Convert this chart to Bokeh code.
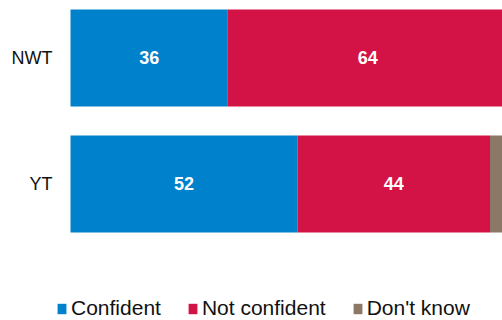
from bokeh.plotting import figure
from bokeh.models import ColumnDataSource, Legend, LegendItem
from bokeh.core.properties import value
from bokeh.embed import file_html
from bokeh.resources import INLINE

categories = ["NWT", "YT"]
confident = [36, 52]
not_confident = [64, 44]
dont_know = [0, 4]
series_names = ["Confident", "Not confident", "Don't know"]
colors = ["#0081CC", "#D31245", "#8B7866"]

ypos = [1, 0]  # NWT on top

src = ColumnDataSource(dict(
    y=ypos,
    c=confident,
    n=not_confident,
    d=dont_know,
))

FONT = "Liberation Sans"

p = figure(width=502, height=320, output_backend="svg", toolbar_location=None,
           x_range=(-16.02, 98.86), y_range=(-1.084, 1.456),
           min_border_left=0, min_border_right=0, min_border_top=0, min_border_bottom=0)
p.outline_line_color = None
p.grid.visible = False
p.xaxis.visible = False
p.yaxis.visible = False

renderers = p.hbar_stack(["c", "n", "d"], y="y", height=0.77, color=colors,
                         source=src, line_width=0)

# category labels, just left of the bars
p.text(x=[0] * len(categories), y=ypos, text=categories, x_offset=-18,
       text_color="#111111", text_font=value(FONT), text_font_size="18px",
       text_align="right", text_baseline="middle")

# value labels centered in segments
lx, ly, lt = [], [], []
for i, yy in enumerate(ypos):
    start = 0
    for vals in (confident, not_confident, dont_know):
        v = vals[i]
        if v >= 10:
            lx.append(start + v / 2)
            ly.append(yy)
            lt.append(str(v))
        start += v
p.text(x=lx, y=ly, text=lt, text_color="white", text_font=value(FONT),
       text_font_size="18px", text_font_style="bold",
       text_align="center", text_baseline="middle")

legend = Legend(items=[LegendItem(label=n, renderers=[r]) for n, r in zip(series_names, renderers)],
                orientation="horizontal", location=(56, 0),
                padding=0, margin=0, spacing=26, label_standoff=4,
                glyph_width=11, glyph_height=13,
                label_text_font=FONT, label_text_font_size="21px",
                label_text_color="#111111",
                border_line_color=None, background_fill_alpha=0)
p.add_layout(legend, "center")

open("out.html", "w").write(file_html(p, INLINE))
